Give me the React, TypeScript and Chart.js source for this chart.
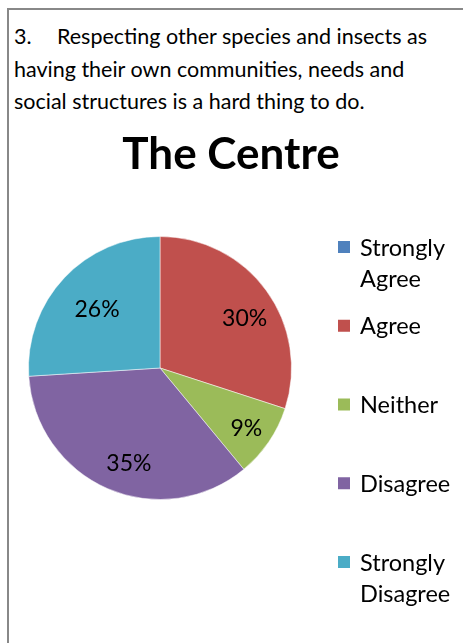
import React, { useEffect, useRef } from 'react';
import { Chart, registerables, layouts } from 'chart.js';

Chart.register(...registerables);

const FONT = 'Lato, "Noto Sans", sans-serif';

const QUESTION_NUMBER = '3.';
const QUESTION_LINES = [
  'Respecting other species and insects as',
  'having their own communities, needs and',
  'social structures is a hard thing to do.',
];
const TITLE = 'The Centre';
const CATEGORIES = ['Strongly Agree', 'Agree', 'Neither', 'Disagree', 'Strongly Disagree'];
const VALUES = [0, 30, 9, 35, 26];
const COLORS = ['#4F81BD', '#C0504D', '#9BBB59', '#8064A2', '#4BACC6'];

const LEGEND_WIDTH = 142;
const LEGEND_FIRST = 11;
const LEGEND_STEP = 78.75;
const LEGEND_LINE = 31;
const LEGEND_FONT_SIZE = 23.5;
const LABEL_FONT_SIZE = 23;
const LABEL_RADIUS = 0.73;
const LABEL_SHIFT = 7;

function makeLegendBox(chart: any) {
  const box: any = {
    position: 'right',
    weight: 0,
    fullSize: false,
    options: {},
    width: 0,
    height: 0,
    left: 0,
    top: 0,
    right: 0,
    bottom: 0,
    isHorizontal() {
      return false;
    },
    update(maxWidth: number, maxHeight: number) {
      box.width = Math.min(LEGEND_WIDTH, maxWidth);
      box.height = maxHeight;
    },
    getPadding() {
      return { left: 0, right: 0, top: 0, bottom: 0 };
    },
    draw() {
      const ctx = chart.ctx;
      const labels = chart.data.labels as string[];
      const bg = chart.data.datasets[0].backgroundColor as string[];
      ctx.save();
      ctx.font = `${LEGEND_FONT_SIZE}px ${FONT}`;
      ctx.textBaseline = 'middle';
      ctx.textAlign = 'left';
      labels.forEach((label, i) => {
        const y = box.top + LEGEND_FIRST + i * LEGEND_STEP;
        ctx.fillStyle = bg[i];
        ctx.fillRect(box.left + 46, y - 6, 12, 12);
        ctx.fillStyle = '#000';
        label.split(' ').forEach((line, j) => {
          ctx.fillText(line, box.left + 68, y + 1 + j * LEGEND_LINE);
        });
      });
      ctx.restore();
    },
  };
  return box;
}

const sideLegend = {
  id: 'sideLegend',
  beforeInit(chart: any) {
    layouts.addBox(chart, makeLegendBox(chart));
  },
};

const pctLabels = {
  id: 'pctLabels',
  afterDatasetsDraw(chart: any) {
    const ctx = chart.ctx;
    const data = chart.data.datasets[0].data as number[];
    const total = data.reduce((a, b) => a + b, 0);
    const meta = chart.getDatasetMeta(0);
    ctx.save();
    ctx.font = `${LABEL_FONT_SIZE}px ${FONT}`;
    ctx.fillStyle = '#000';
    ctx.textAlign = 'center';
    ctx.textBaseline = 'middle';
    meta.data.forEach((arc: any, i: number) => {
      const v = data[i];
      if (!v) return;
      const { x, y, startAngle, endAngle, outerRadius } = arc.getProps(
        ['x', 'y', 'startAngle', 'endAngle', 'outerRadius'],
        true
      );
      const mid = (startAngle + endAngle) / 2;
      const r = outerRadius * LABEL_RADIUS;
      ctx.fillText(
        `${Math.round((v / total) * 100)}%`,
        x + Math.cos(mid) * r + LABEL_SHIFT,
        y + Math.sin(mid) * r + LABEL_SHIFT
      );
    });
    ctx.restore();
  },
};

function PieChart() {
  const ref = useRef<HTMLCanvasElement | null>(null);
  useEffect(() => {
    if (!ref.current) return;
    const chart = new Chart(ref.current, {
      type: 'pie',
      data: {
        labels: CATEGORIES,
        datasets: [
          {
            data: VALUES,
            backgroundColor: COLORS,
            borderColor: 'rgba(255,255,255,0.5)',
            borderWidth: 1,
          },
        ],
      },
      options: {
        animation: false,
        responsive: true,
        maintainAspectRatio: false,
        layout: { padding: { left: 19, right: 28, top: 0, bottom: 135 } },
        plugins: {
          legend: { display: false },
          tooltip: { enabled: false },
          title: {
            display: true,
            text: TITLE,
            color: '#000',
            font: { family: FONT, size: 44, weight: 'bold', lineHeight: 1.2 },
            padding: { top: 8, bottom: 55.2 },
          },
        },
      },
      plugins: [sideLegend, pctLabels],
    });
    return () => chart.destroy();
  }, []);
  return (
    <div style={{ position: 'absolute', left: 0, top: 110, width: 453, height: 515 }}>
      <canvas ref={ref} />
    </div>
  );
}

export default function App() {
  useEffect(() => {
    document.body.style.overflow = 'hidden';
  }, []);
  return (
    <div
      style={{
        position: 'fixed',
        left: 7,
        top: 8,
        width: 480,
        height: 660,
        borderTop: '2px solid #888',
        borderLeft: '2px solid #888',
        background: '#fff',
        fontFamily: FONT,
        color: '#000',
      }}
    >
      <div style={{ paddingLeft: 5, paddingTop: 10, fontSize: 21.5, lineHeight: '32.5px' }}>
        {QUESTION_LINES.map((line, i) => (
          <div key={i} style={{ whiteSpace: 'nowrap' }}>
            {i === 0 ? (
              <span style={{ display: 'inline-block', width: 43 }}>{QUESTION_NUMBER}</span>
            ) : null}
            {line}
          </div>
        ))}
      </div>
      <PieChart />
    </div>
  );
}
